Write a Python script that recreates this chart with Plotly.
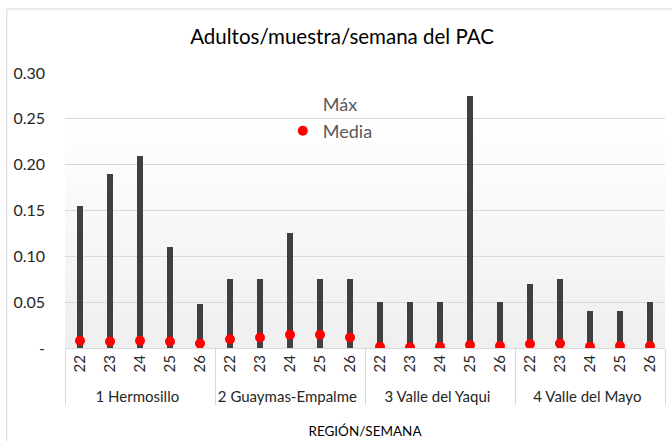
import plotly.graph_objects as go

# datos por región / semana
regiones = ["1 Hermosillo", "2 Guaymas-Empalme", "3 Valle del Yaqui", "4 Valle del Mayo"]
semanas = ["22", "23", "24", "25", "26"]

maximo = [0.155, 0.19, 0.21, 0.11, 0.048,
          0.075, 0.075, 0.125, 0.075, 0.075,
          0.05, 0.05, 0.05, 0.275, 0.05,
          0.07, 0.075, 0.04, 0.04, 0.05]
media = [0.008, 0.007, 0.008, 0.007, 0.005,
         0.0095, 0.0115, 0.0145, 0.0145, 0.0115,
         0.0014, 0.0007, 0.0014, 0.0033, 0.0022,
         0.0044, 0.005, 0.0014, 0.0022, 0.0022]

ytick_vals = [0, 0.05, 0.10, 0.15, 0.20, 0.25, 0.30]
ytick_text = ["-", "0.05", "0.10", "0.15", "0.20", "0.25", "0.30"]

x_reg = [r for r in regiones for _ in semanas]
x_sem = [s for _ in regiones for s in semanas]

FONT = "Lato"

fig = go.Figure()

fig.add_trace(go.Bar(
    x=[x_reg, x_sem], y=maximo, name="Máx",
    width=0.23, marker=dict(color="#404040", line=dict(width=0)),
    showlegend=False
))
# entrada de leyenda sin símbolo
fig.add_trace(go.Scatter(
    x=[[regiones[0]], [semanas[0]]], y=[None], name="Máx", mode="markers",
    marker=dict(color="rgba(0,0,0,0)")
))
fig.add_trace(go.Scatter(
    x=[x_reg, x_sem], y=media, name="Media", mode="markers",
    marker=dict(color="#ff0000", size=10)
))

# fondo degradado del área de trazado
n = 24
top = 0.2607
for i in range(n):
    t = i / (n - 1)
    g = int(round(255 - 16 * t))
    fig.add_shape(type="rect", xref="x domain", yref="y",
                  x0=0, x1=1, y0=top * (n - 1 - i) / n, y1=top * (n - i) / n,
                  fillcolor=f"rgb({g},{g},{g})", line=dict(width=0), layer="below")

# borde del gráfico
fig.add_shape(type="rect", xref="paper", yref="paper",
              x0=-0.097, x1=1.05, y0=-0.4, y1=1.233,
              line=dict(color="#d9d9d9", width=1), fillcolor="rgba(0,0,0,0)")

fig.update_layout(
    width=672, height=441,
    margin=dict(l=65, r=7, t=73, b=93, autoexpand=False),
    paper_bgcolor="white", plot_bgcolor="rgba(0,0,0,0)",
    font=dict(family=FONT, color="#262626"),
    title=dict(text="Adultos/muestra/semana del PAC", x=0.509, xanchor="center",
               xref="container", y=1 - 37 / 441, yanchor="middle",
               font=dict(size=20.5, color="#000000", family=FONT)),
    bargap=0,
    legend=dict(x=0.363, y=0.952, xanchor="left", yanchor="top",
                bgcolor="rgba(0,0,0,0)", font=dict(size=18, color="#595959"),
                itemwidth=30, tracegroupgap=0),
    xaxis=dict(type="multicategory", tickangle=-90, automargin=False,
               range=[-0.5, len(x_sem) - 0.5],
               tickfont=dict(size=15, color="#262626"),
               showdividers=True, dividercolor="#d9d9d9", dividerwidth=1,
               showline=True, linecolor="#d9d9d9", ticks="",
               title=dict(text="REGIÓN/SEMANA", font=dict(size=13.5, color="#000000"),
                          standoff=22)),
    yaxis=dict(range=[0, 0.30], tickvals=ytick_vals, ticktext=ytick_text,
               automargin=False,
               tickfont=dict(size=16, color="#262626"),
               showgrid=True, gridcolor="#d9d9d9", gridwidth=1,
               zeroline=False, showline=False, ticklabelstandoff=19),
)

fig.write_html("out.html", config={"displayModeBar": False},
               post_script="document.body.style.margin='0';")
